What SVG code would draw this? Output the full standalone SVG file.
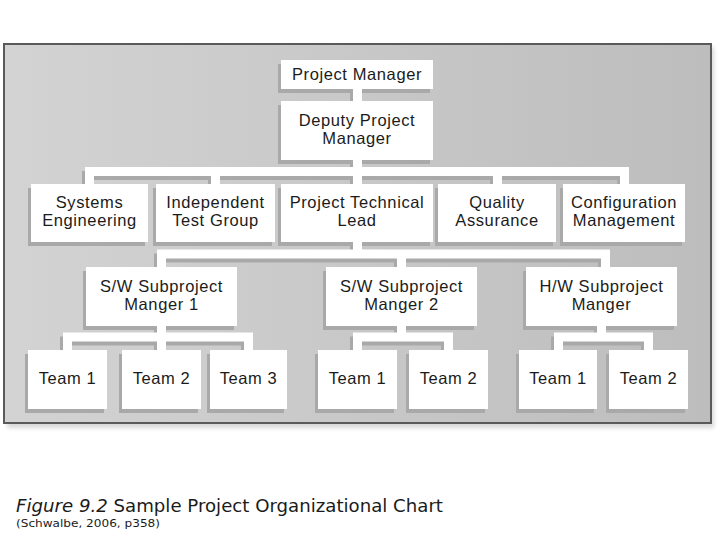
<svg xmlns="http://www.w3.org/2000/svg" xmlns:xlink="http://www.w3.org/1999/xlink" width="720" height="540" viewBox="0 0 720 540">
<style>
.t{font-family:"Liberation Sans","Arial",sans-serif;font-size:16.5px;letter-spacing:0.6px;fill:#1b1b1b;text-anchor:middle}
.cap{font-family:"DejaVu Sans","Verdana",sans-serif;fill:#1b1b1b}
.wire{fill:none;stroke:#ffffff;stroke-width:9;stroke-linecap:butt;stroke-linejoin:miter}
.shw{fill:none;stroke:#a9a9a9;stroke-width:9;stroke-linecap:butt;stroke-linejoin:miter}
.node{fill:#ffffff}
.sh{fill:#a9a9a9}
</style>
<defs>
<linearGradient id="pg" x1="0" y1="0" x2="1" y2="0">
<stop offset="0" stop-color="#d3d3d3"/>
<stop offset="0.5" stop-color="#c8c8c8"/>
<stop offset="1" stop-color="#bdbdbd"/>
</linearGradient>
<filter id="blur" x="-5%" y="-5%" width="110%" height="110%"><feGaussianBlur stdDeviation="2"/></filter>
<g id="wirepaths">
<path d="M357.5 89V101"/>
<path d="M357.5 160V171.5M85 171.5H629M89.5 171.5V184M215.5 171.5V184M357.5 171.5V184M497.5 171.5V184M624.5 171.5V184"/>
<path d="M357.5 242V254M157 254H610M161.5 254V268M401.5 254V268M605.5 254V268"/>
<path d="M161.5 326V337M63 337H253M67.5 337V351M161.5 337V351M248.5 337V351"/>
<path d="M401.5 326V337M353 337H453M357.5 337V351M448.5 337V351"/>
<path d="M601.5 326V337M554 337H653M558.5 337V351M648.5 337V351"/>
</g>
<g id="boxrects">
<rect x="281" y="60" width="152" height="29"/>
<rect x="281" y="101" width="152" height="59"/>
<rect x="31" y="184" width="117" height="58"/>
<rect x="156" y="184" width="119" height="58"/>
<rect x="281" y="184" width="152" height="58"/>
<rect x="438" y="184" width="118" height="58"/>
<rect x="563" y="184" width="122" height="58"/>
<rect x="86" y="267" width="151" height="59"/>
<rect x="326" y="267" width="151" height="59"/>
<rect x="526" y="267" width="151" height="59"/>
<rect x="28" y="350" width="79" height="59"/>
<rect x="122" y="350" width="79" height="59"/>
<rect x="210" y="350" width="77" height="59"/>
<rect x="318" y="350" width="79" height="59"/>
<rect x="409" y="350" width="79" height="59"/>
<rect x="519" y="350" width="78" height="59"/>
<rect x="609" y="350" width="79" height="59"/>
</g>
</defs>
<rect width="720" height="540" fill="#ffffff"/>
<g id="panel">
<rect x="7" y="47" width="707" height="381" fill="#d8d8d8" filter="url(#blur)"/>
<rect x="4" y="44" width="707" height="379" fill="url(#pg)" stroke="#5a5a5a" stroke-width="2"/>
</g>
<g id="shadows" transform="translate(-3,4)">
<use xlink:href="#wirepaths" class="shw"/>
<use xlink:href="#boxrects" class="sh"/>
</g>
<g id="connectors">
<use xlink:href="#wirepaths" class="wire"/>
</g>
<g id="project-manager"><rect class="node" x="281" y="60" width="152" height="29"/><text class="t" x="357" y="80">Project Manager</text></g>
<g id="deputy-pm"><rect class="node" x="281" y="101" width="152" height="59"/><text class="t" x="357" y="125.5">Deputy Project</text><text class="t" x="357" y="144">Manager</text></g>
<g id="systems-eng"><rect class="node" x="31" y="184" width="117" height="58"/><text class="t" x="89.5" y="207.5">Systems</text><text class="t" x="89.5" y="226">Engineering</text></g>
<g id="test-group"><rect class="node" x="156" y="184" width="119" height="58"/><text class="t" x="215.5" y="207.5">Independent</text><text class="t" x="215.5" y="226">Test Group</text></g>
<g id="tech-lead"><rect class="node" x="281" y="184" width="152" height="58"/><text class="t" x="357" y="207.5">Project Technical</text><text class="t" x="357" y="226">Lead</text></g>
<g id="quality"><rect class="node" x="438" y="184" width="118" height="58"/><text class="t" x="497" y="207.5">Quality</text><text class="t" x="497" y="226">Assurance</text></g>
<g id="config"><rect class="node" x="563" y="184" width="122" height="58"/><text class="t" x="624" y="207.5">Configuration</text><text class="t" x="624" y="226">Management</text></g>
<g id="sw1"><rect class="node" x="86" y="267" width="151" height="59"/><text class="t" x="161.5" y="291.5">S/W Subproject</text><text class="t" x="161.5" y="310">Manger 1</text></g>
<g id="sw2"><rect class="node" x="326" y="267" width="151" height="59"/><text class="t" x="401.5" y="291.5">S/W Subproject</text><text class="t" x="401.5" y="310">Manger 2</text></g>
<g id="hw"><rect class="node" x="526" y="267" width="151" height="59"/><text class="t" x="601.5" y="291.5">H/W Subproject</text><text class="t" x="601.5" y="310">Manger</text></g>
<g id="sw1-team1"><rect class="node" x="28" y="350" width="79" height="59"/><text class="t" x="67.5" y="384">Team 1</text></g>
<g id="sw1-team2"><rect class="node" x="122" y="350" width="79" height="59"/><text class="t" x="161.5" y="384">Team 2</text></g>
<g id="sw1-team3"><rect class="node" x="210" y="350" width="77" height="59"/><text class="t" x="248.5" y="384">Team 3</text></g>
<g id="sw2-team1"><rect class="node" x="318" y="350" width="79" height="59"/><text class="t" x="357.5" y="384">Team 1</text></g>
<g id="sw2-team2"><rect class="node" x="409" y="350" width="79" height="59"/><text class="t" x="448.5" y="384">Team 2</text></g>
<g id="hw-team1"><rect class="node" x="519" y="350" width="78" height="59"/><text class="t" x="558" y="384">Team 1</text></g>
<g id="hw-team2"><rect class="node" x="609" y="350" width="79" height="59"/><text class="t" x="648.5" y="384">Team 2</text></g>
<g id="caption">
<text class="cap" x="16" y="512" font-size="17" textLength="427" lengthAdjust="spacingAndGlyphs"><tspan font-style="italic">Figure 9.2</tspan> Sample Project Organizational Chart</text>
<text class="cap" x="16" y="527" font-size="11" textLength="144" lengthAdjust="spacingAndGlyphs">(Schwalbe, 2006, p358)</text>
</g>
</svg>
